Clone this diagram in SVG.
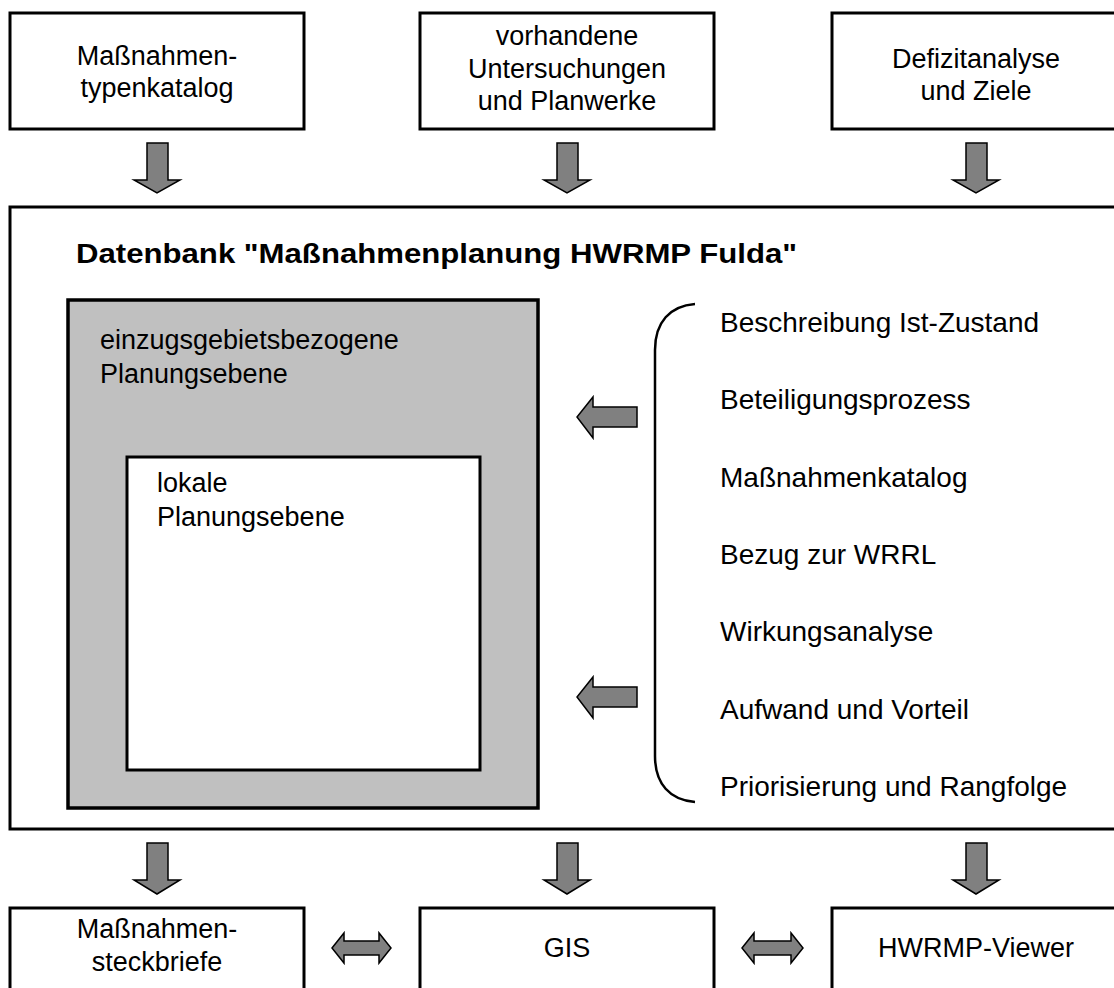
<svg xmlns="http://www.w3.org/2000/svg" width="1114" height="988" viewBox="0 0 1114 988">
<style>
.box{fill:#fff;stroke:#000;stroke-width:3}
.t{font-family:"Liberation Sans",Arial,sans-serif;font-size:27px;fill:#000}
.l{font-size:28px}
.c{text-anchor:middle}
.arr{fill:#808080;stroke:#000;stroke-width:1.5;stroke-linejoin:miter}
</style>
<rect width="1114" height="988" fill="#fff"/>
<g id="n-typenkatalog">
<rect class="box" x="10" y="13" width="294" height="116"/>
<text class="t c" x="157" y="65">Maßnahmen-</text>
<text class="t c" x="157" y="97">typenkatalog</text>
</g>
<g id="n-untersuchungen">
<rect class="box" x="420" y="13" width="294" height="116"/>
<text class="t c" x="567" y="45">vorhandene</text>
<text class="t c" x="567" y="78">Untersuchungen</text>
<text class="t c" x="567" y="110">und Planwerke</text>
</g>
<g id="n-defizit">
<rect class="box" x="832" y="13" width="300" height="116"/>
<text class="t c" x="976" y="68">Defizitanalyse</text>
<text class="t c" x="976" y="100">und Ziele</text>
</g>
<g id="n-datenbank">
<rect class="box" x="10" y="207" width="1120" height="622"/>
<text class="t" x="76" y="263" font-weight="bold" font-size="29" textLength="721" lengthAdjust="spacingAndGlyphs">Datenbank "Maßnahmenplanung HWRMP Fulda"</text>
</g>
<g id="n-einzugsgebiet">
<rect x="68" y="300" width="470" height="508" fill="#c0c0c0" stroke="#000" stroke-width="3.5"/>
<text class="t" x="100" y="349">einzugsgebietsbezogene</text>
<text class="t" x="100" y="383">Planungsebene</text>
</g>
<g id="n-lokal">
<rect class="box" x="127" y="457" width="353" height="313"/>
<text class="t" x="157" y="492">lokale</text>
<text class="t" x="157" y="526">Planungsebene</text>
</g>
<g id="n-liste">
<path d="M695,304 C670,306 655,322 655,350 L655,756 C655,784 670,800 695,802" fill="none" stroke="#000" stroke-width="2.5"/>
<text class="t l" x="720" y="332">Beschreibung Ist-Zustand</text>
<text class="t l" x="720" y="409">Beteiligungsprozess</text>
<text class="t l" x="720" y="487">Maßnahmenkatalog</text>
<text class="t l" x="720" y="564">Bezug zur WRRL</text>
<text class="t l" x="720" y="641">Wirkungsanalyse</text>
<text class="t l" x="720" y="719">Aufwand und Vorteil</text>
<text class="t l" x="720" y="796">Priorisierung und Rangfolge</text>
</g>
<g id="n-steckbriefe">
<rect class="box" x="10" y="908" width="294" height="100"/>
<text class="t c" x="157" y="938">Maßnahmen-</text>
<text class="t c" x="157" y="971">steckbriefe</text>
</g>
<g id="n-gis">
<rect class="box" x="420" y="908" width="294" height="100"/>
<text class="t c" x="567" y="957">GIS</text>
</g>
<g id="n-viewer">
<rect class="box" x="832" y="908" width="300" height="100"/>
<text class="t c" x="976" y="957">HWRMP-Viewer</text>
</g>
<g id="connectors">
<path class="arr" d="M147,143 H168 V180 H180 L157,193 L134,180 H147 Z"/>
<path class="arr" d="M557,143 H578 V180 H590 L567,193 L544,180 H557 Z"/>
<path class="arr" d="M966,143 H987 V180 H999 L976,193 L953,180 H966 Z"/>
<path class="arr" d="M637,407 V427 H593 V438 L577,417 L593,397 V407 Z"/>
<path class="arr" d="M637,687 V707 H593 V718 L577,697 L593,677 V687 Z"/>
<path class="arr" d="M147,843 H168 V880 H180 L157,894 L134,880 H147 Z"/>
<path class="arr" d="M557,843 H578 V880 H590 L567,894 L544,880 H557 Z"/>
<path class="arr" d="M966,843 H987 V880 H999 L976,894 L953,880 H966 Z"/>
<path class="arr" d="M332,948 L344,933 V941 H379 V933 L391,948 L379,963 V955 H344 V963 Z"/>
<path class="arr" d="M742,948 L754,933 V941 H791 V933 L803,948 L791,963 V955 H754 V963 Z"/>
</g>
</svg>
